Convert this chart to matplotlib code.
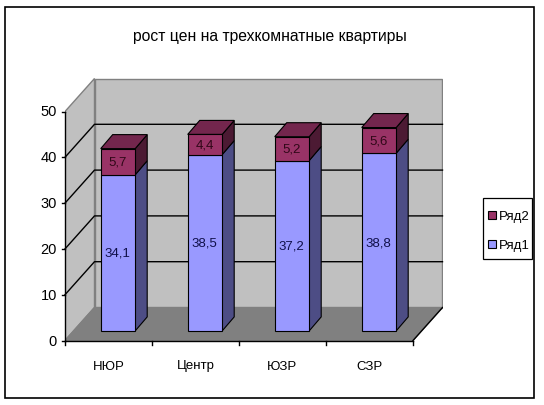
import matplotlib
matplotlib.use('Agg')
import matplotlib.pyplot as plt
import numpy as np

categories = ['НЮР', 'Центр', 'ЮЗР', 'СЗР']
row1 = [34.1, 38.5, 37.2, 38.8]
row2 = [5.7, 4.4, 5.2, 5.6]
labels1 = ['34,1', '38,5', '37,2', '38,8']
labels2 = ['5,7', '4,4', '5,2', '5,6']
y_ticks = [0, 10, 20, 30, 40, 50]

plt.rcParams['font.family'] = ['Liberation Sans', 'DejaVu Sans']

W, H = 544, 406
fig = plt.figure(figsize=(W / 100, H / 100), dpi=100)

# pixel box of the axes: left edge of the floor to the back wall, 0 line up to wall top
left, right, bottom, top = 65, 443, 341.5, 79
ax = fig.add_axes([left / W, 1 - bottom / H, (right - left) / W, (bottom - top) / H])
x_px = 87.0
y_px = 4.58
ax.set_xlim(0, (right - left) / x_px)
ax.set_ylim(0, (bottom - top) / y_px)
ax.axis('off')

wall_dx = 29.5 / x_px
wall_dy = 33 / y_px
xmax = 348 / x_px
line = dict(color='black', lw=1.0, clip_on=False)

# back wall, side wall, floor
ax.fill([wall_dx, wall_dx + xmax, wall_dx + xmax, wall_dx],
        [wall_dy, wall_dy, wall_dy + 50, wall_dy + 50], color='#c0c0c0', ec='#808080', lw=1, zorder=1)
ax.fill([0, wall_dx, wall_dx, 0], [0, wall_dy, wall_dy + 50, 50], color='#c0c0c0', ec='#808080', lw=1, zorder=1)
ax.fill([0, xmax, xmax + wall_dx, wall_dx], [0, 0, wall_dy, wall_dy], color='#808080', ec='#808080', lw=1, zorder=1)

# gridlines
for t in y_ticks[1:-1]:
    ax.plot([0, wall_dx, wall_dx + xmax], [t, t + wall_dy, t + wall_dy], zorder=2, **line)

# axes lines and ticks
ax.plot([0, 0], [0, 50], zorder=3, **line)
ax.plot([0, xmax], [0, 0], zorder=3, **line)
for t in y_ticks:
    ax.plot([-3 / x_px, 0], [t, t], zorder=3, **line)
    ax.text(-8 / x_px, t, str(t), ha='right', va='center', fontsize=10.5, color='black')
for i in range(5):
    ax.plot([i, i], [0, -4 / y_px], zorder=3, **line)
ax.plot([xmax, xmax + wall_dx], [0, wall_dy], color='black', lw=1, zorder=3)

# bars
bar_w = 34.5 / x_px
off = 35.7 / x_px
base = 9.6 / y_px
d_x = 12 / x_px
d_y = 14 / y_px
edge = dict(ec='black', lw=0.8)
for i in range(len(categories)):
    x0 = i + off
    x1 = x0 + bar_w
    y1 = base + row1[i]
    y2 = y1 + row2[i]
    ax.fill([x1, x1 + d_x, x1 + d_x, x1], [base, base + d_y, y1 + d_y, y1], color='#4d4d85', zorder=4, **edge)
    ax.fill([x1, x1 + d_x, x1 + d_x, x1], [y1, y1 + d_y, y2 + d_y, y2], color='#4c1a33', zorder=4, **edge)
    ax.fill([x0, x1, x1 + d_x, x0 + d_x], [y2, y2, y2 + d_y, y2 + d_y], color='#73264d', zorder=4, **edge)
    ax.bar(x0, row1[i], bar_w, bottom=base, align='edge', color='#9999ff', zorder=5, **edge)
    ax.bar(x0, row2[i], bar_w, bottom=y1, align='edge', color='#993366', zorder=5, **edge)
    ax.text(x0 + bar_w / 2 - 1 / x_px, base + row1[i] / 2, labels1[i], ha='center', va='center', fontsize=9.5, color='#10104a', zorder=6)
    ax.text(x0 + bar_w / 2, y1 + row2[i] / 2, labels2[i], ha='center', va='center', fontsize=9.5, color='#300818', zorder=6)
    ax.text(i + 0.5, -28 / y_px, categories[i], ha='center', va='baseline', fontsize=9.5, color='black')

# outer frame, title and legend live in figure pixels
def fig_rect(x0, y0, x1, y1, **kw):
    fig.add_artist(plt.Rectangle((x0 / W, 1 - y1 / H), (x1 - x0) / W, (y1 - y0) / H, transform=fig.transFigure, **kw))

fig_rect(5, 7.5, 534, 398.5, fill=False, ec='black', lw=1.2)
fig.text(270 / W, 1 - 36 / H, 'рост цен на трехкомнатные квартиры', ha='center', va='center', fontsize=11.3, color='black')

# legend box
legend_names = ['Ряд2', 'Ряд1']
legend_colors = ['#993366', '#9999ff']
legend_y = [216.7, 245.7]
fig_rect(483, 199, 532, 260, fc='white', ec='black', lw=0.9)
for name, c, y in zip(legend_names, legend_colors, legend_y):
    fig_rect(488, y - 4.5, 496, y + 3.5, fc=c, ec='black', lw=0.8)
    fig.text(499 / W, 1 - y / H, name, ha='left', va='center', fontsize=9.5, color='black')

fig.savefig('out.png', dpi=100)
